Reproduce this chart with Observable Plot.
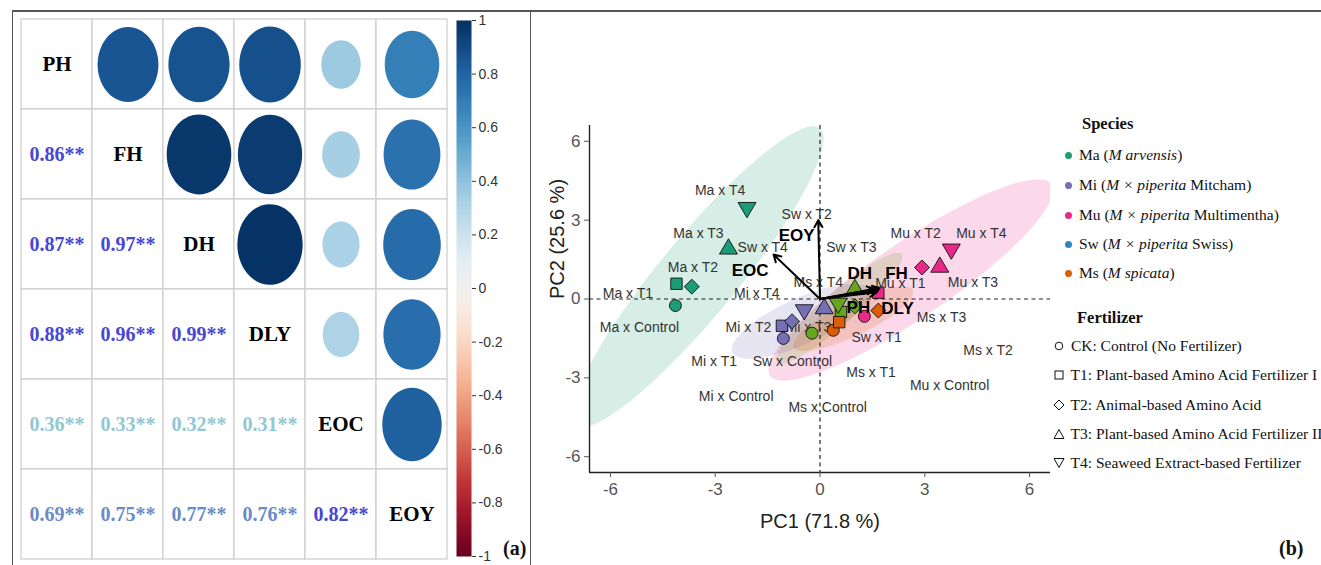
<!DOCTYPE html>
<html><head><meta charset="utf-8">
<script src="https://cdn.jsdelivr.net/npm/d3@7"></script>
<script src="https://cdn.jsdelivr.net/npm/@observablehq/plot@0.6"></script>
<style>
html,body{margin:0;padding:0;background:#fff;}
#wrap{position:relative;width:1321px;height:565px;overflow:hidden;font-family:"Liberation Serif",serif;background:#fff;}
.abs{position:absolute;}
.leg{position:absolute;font-family:"Liberation Serif",serif;font-size:15.5px;line-height:20px;color:#111;white-space:nowrap;}
.legt{position:absolute;font-family:"Liberation Serif",serif;font-size:16.5px;font-weight:bold;line-height:20px;color:#111;}
</style></head><body><div id="wrap"></div>
<script>
// ---------- Panel (a): correlation matrix ----------
const vars = ["PH","FH","DH","DLY","EOC","EOY"];
const rPH  = [1, 0.86, 0.87, 0.88, 0.36, 0.69];
const rFH  = [0.86, 1, 0.97, 0.96, 0.33, 0.75];
const rDH  = [0.87, 0.97, 1, 0.99, 0.32, 0.77];
const rDLY = [0.88, 0.96, 0.99, 1, 0.31, 0.76];
const rEOC = [0.36, 0.33, 0.32, 0.31, 1, 0.82];
const rEOY = [0.69, 0.75, 0.77, 0.76, 0.82, 1];
const corrRows = [rPH, rFH, rDH, rDLY, rEOC, rEOY];
const barTicks = [1, 0.8, 0.6, 0.4, 0.2, 0, -0.2, -0.4, -0.6, -0.8, -1];

// ---------- Panel (b): PCA biplot ----------
const speciesCodes  = ["Ma","Mi","Mu","Sw","Ms"];
const speciesColors = ["#1B9E77","#7570B3","#E7298A","#66A61E","#D95F02"];
const legendDotColors = ["#1B9E77","#7570B3","#E7298A","#2E86C1","#D95F02"];
const speciesItalic = ["M arvensis","M × piperita","M × piperita","M × piperita","M spicata"];
const speciesSuffix = [""," Mitcham"," Multimentha"," Swiss",""];
const fertCodes  = ["CK","T1","T2","T3","T4"];
const fertLabels = ["CK: Control (No Fertilizer)",
  "T1: Plant-based Amino Acid Fertilizer I",
  "T2: Animal-based Amino Acid",
  "T3: Plant-based Amino Acid Fertilizer II",
  "T4: Seaweed Extract-based Fertilizer"];

const ptSpecies = ["Ma","Ma","Ma","Ma","Ma", "Mi","Mi","Mi","Mi","Mi", "Sw","Sw","Sw","Sw","Sw", "Ms","Ms","Ms", "Mu","Mu","Mu","Mu","Mu"];
const ptFert    = ["CK","T1","T2","T3","T4", "CK","T1","T2","T3","T4", "CK","T1","T2","T3","T4", "CK","T1","T2", "CK","T1","T2","T3","T4"];
const ptX = [-4.14,-4.11,-3.67,-2.62,-2.09, -1.05,-1.09,-0.80,0.12,-0.45, -0.23,0.60,1.00,1.00,0.52, 0.38,0.55,1.67, 1.27,1.67,2.92,3.43,3.76];
const ptY = [-0.25,0.58,0.47,1.96,3.42, -1.50,-1.02,-0.85,-0.31,-0.47, -1.30,-0.50,-0.28,0.42,-0.22, -1.19,-0.88,-0.44, -0.66,0.24,1.20,1.27,1.84];

const labText = ["Ma x T4","Ma x T3","Ma x T2","Ma x T1","Ma x Control",
  "Sw x T2","Sw x T4","Sw x T3","Ms x T4","Mi x T4","Mu x T1","Mi x T2","Mi x T3",
  "Ms x T3","Sw x T1","Ms x T2","Mi x T1","Sw x Control","Ms x T1","Mu x Control",
  "Mi x Control","Ms x Control","Mu x T2","Mu x T4","Mu x T3"];
const labX = [-2.86,-3.48,-3.64,-5.50,-5.17, -0.38,-1.64,0.90,-0.05,-1.81,2.30,-2.05,-0.33,
  3.48,1.62,4.81,-3.03,-0.79,1.46,3.71, -2.40,0.22,2.74,4.62,4.38];
const labY = [4.14,2.49,1.20,0.22,-1.07, 3.23,1.96,1.96,0.64,0.22,0.60,-1.07,-1.07,
  -0.69,-1.45,-1.95,-2.39,-2.39,-2.81,-3.31, -3.72,-4.12,2.49,2.49,0.64];

const varNames = ["EOY","EOC","DH","FH","PH","DLY"];
const varTipX  = [-0.05,-1.33,1.55,1.70,1.62,1.66];
const varTipY  = [3.00,1.69,0.38,0.40,0.26,0.31];
const varLabX  = [-0.67,-2.00,1.14,2.19,1.10,2.22];
const varLabY  = [2.40,1.08,0.95,0.95,-0.31,-0.37];

// confidence ellipses: centre, major and minor semi-axis vectors (data units)
const ellSpecies = ["Ma","Mi","Mu","Sw","Ms"];
const ellCx = [-3.50,-0.55,2.60,0.55,0.95];
const ellCy = [0.85,-0.85,0.72,-0.35,-0.75];
const ellAx = [3.50,1.96,4.03,1.78,1.70];
const ellAy = [5.65,1.18,3.64,2.06,1.10];
const ellBx = [0.86,0.27,0.61,0.30,0.25];
const ellBy = [-0.94,-0.79,-1.19,-0.46,-0.55];

const axisTicks = [-6,-3,0,3,6];
const xDom = [-6.6, 6.6];
const yDom = [-6.6, 6.6];

// ---------- symbols ----------
const K = 0.5523;
const ellipseSym = {draw(ctx, size){ const r=Math.sqrt(size/Math.PI); const rx=r*0.81, ry=r;
  ctx.moveTo(rx,0); ctx.bezierCurveTo(rx,ry*K,rx*K,ry,0,ry); ctx.bezierCurveTo(-rx*K,ry,-rx,ry*K,-rx,0);
  ctx.bezierCurveTo(-rx,-ry*K,-rx*K,-ry,0,-ry); ctx.bezierCurveTo(rx*K,-ry,rx,-ry*K,rx,0); ctx.closePath(); }};
const circleSym = {draw(ctx,size){ const r=Math.sqrt(size/Math.PI); ctx.moveTo(r,0); ctx.arc(0,0,r,0,2*Math.PI); ctx.closePath(); }};
const squareSym = {draw(ctx,size){ const s=Math.sqrt(size/Math.PI)*0.95; ctx.moveTo(-s,-s); ctx.lineTo(s,-s); ctx.lineTo(s,s); ctx.lineTo(-s,s); ctx.closePath(); }};
const diamondSym = {draw(ctx,size){ const s=Math.sqrt(size/Math.PI)*1.25; ctx.moveTo(0,-s); ctx.lineTo(s,0); ctx.lineTo(0,s); ctx.lineTo(-s,0); ctx.closePath(); }};
const triUpSym = {draw(ctx,size){ const r=Math.sqrt(size/Math.PI); ctx.moveTo(0,-1.45*r); ctx.lineTo(1.5*r,1.1*r); ctx.lineTo(-1.5*r,1.1*r); ctx.closePath(); }};
const triDownSym = {draw(ctx,size){ const r=Math.sqrt(size/Math.PI); ctx.moveTo(0,1.45*r); ctx.lineTo(1.5*r,-1.1*r); ctx.lineTo(-1.5*r,-1.1*r); ctx.closePath(); }};
const fertSymbols = [circleSym, squareSym, diamondSym, triUpSym, triDownSym];

const wrap = document.getElementById("wrap");
function place(el, left, top){ el.style.position="absolute"; el.style.left=left+"px"; el.style.top=top+"px"; wrap.appendChild(el); return el; }

// ---------- build matrix plot ----------
const cells = [];
corrRows.forEach((row, i) => row.forEach((v, j) => cells.push({row: vars[i], col: vars[j], v, i, j})));
const lower = cells.filter(d => d.j < d.i);
const fmt = d => d.v.toFixed(2) + "**";
const txtOpts = {x:"col", y:"row", text: fmt, fontSize:20, fontWeight:"bold", fontFamily:"Liberation Serif"};
const left = Plot.plot({
  width: 450, height: 565, marginLeft: 19, marginRight: 1, marginTop: 19, marginBottom: 6,
  x: {type:"band", domain: vars, padding: 0, axis: null},
  y: {type:"band", domain: vars, padding: 0, axis: null},
  color: {type:"linear", domain:[-1,1], scheme:"RdBu"},
  r: {type:"sqrt", domain:[0,1], range:[0,40.5]},
  style: {background:"transparent", overflow:"visible"},
  marks: [
    Plot.cell(cells, {x:"col", y:"row", fill:"white", stroke:"#d0d0d0", strokeWidth:1.3, inset:0}),
    Plot.dot(cells.filter(d => d.j > d.i), {x:"col", y:"row", r: d => Math.abs(d.v), fill:"v", symbol: ellipseSym}),
    Plot.text(cells.filter(d => d.i === d.j), {x:"col", y:"row", text:"row", fontSize:21, fontWeight:"bold", fill:"#000", fontFamily:"Liberation Serif"}),
    Plot.text(lower.filter(d => d.v >= 0.8), {...txtOpts, fill:"#4747D3"}),
    Plot.text(lower.filter(d => d.v >= 0.6 && d.v < 0.8), {...txtOpts, fill:"#6A8BC6"}),
    Plot.text(lower.filter(d => d.v < 0.6), {...txtOpts, fill:"#90C8D3"})
  ]
});
place(left, 0, 0);

// ---------- colour bar ----------
const bar = Plot.plot({
  width: 65, height: 565, marginLeft: 0, marginRight: 50, marginTop: 20, marginBottom: 9,
  x: {domain:[0,1], axis:null},
  y: {domain:[-1,1]},
  color: {type:"linear", domain:[-1,1], scheme:"RdBu"},
  style: {background:"transparent", overflow:"visible", fontFamily:"Liberation Sans"},
  marks: [
    Plot.raster({fill: (x, y) => y, x1:0, x2:1, y1:-1, y2:1, width:2, height:400, imageRendering:"auto"}),
    Plot.axisY({anchor:"right", ticks: barTicks, tickFormat: d => String(d), tickSize:4, tickPadding:3, fontSize:14, label:null, color:"#333"})
  ]
});
place(bar, 456, 0);

// ---------- PCA biplot ----------
const ptData = ptX.map((x, i) => ({x, y: ptY[i], sp: ptSpecies[i], f: ptFert[i]}));
const labData = labText.map((t, i) => ({t, x: labX[i], y: labY[i]}));
const arrowData = varNames.map((n, i) => ({n, x2: varTipX[i], y2: varTipY[i]}));
const varLabData = varNames.map((n, i) => ({n, x: varLabX[i], y: varLabY[i]}));
const ellData = [];
ellSpecies.forEach((sp, i) => {
  for (let k = 0; k <= 90; k++) {
    const t = 2 * Math.PI * k / 90;
    ellData.push({sp, x: ellCx[i] + Math.cos(t) * ellAx[i] + Math.sin(t) * ellBx[i],
                      y: ellCy[i] + Math.cos(t) * ellAy[i] + Math.sin(t) * ellBy[i]});
  }
});
const right = Plot.plot({
  width: 525, height: 447, marginLeft: 59, marginRight: 5, marginTop: 25, marginBottom: 75,
  x: {domain: xDom}, y: {domain: yDom},
  color: {domain: speciesCodes, range: speciesColors},
  symbol: {domain: fertCodes, range: fertSymbols},
  style: {background:"transparent", overflow:"visible", fontFamily:"Liberation Sans"},
  marks: [
    Plot.line(ellData, {x:"x", y:"y", z:"sp", fill:"sp", fillOpacity:0.18, stroke:"none", curve:"linear-closed", clip:true}),
    Plot.ruleX([0], {stroke:"#222", strokeDasharray:"4,3.5", strokeWidth:1.2}),
    Plot.ruleY([0], {stroke:"#222", strokeDasharray:"4,3.5", strokeWidth:1.2}),
    Plot.text(labData, {x:"x", y:"y", text:"t", fontSize:14, fill:"#333"}),
    Plot.dot(ptData, {x:"x", y:"y", fill:"sp", symbol:"f", r:6, stroke:"#111", strokeWidth:0.9}),
    Plot.arrow(arrowData, {x1: d => 0, y1: d => 0, x2:"x2", y2:"y2", stroke:"#000", strokeWidth:2, headLength:6}),
    Plot.text(varLabData, {x:"x", y:"y", text:"n", fontSize:17, fontWeight:"bold", fill:"#000"}),
    Plot.ruleX([xDom[0]], {stroke:"#222", strokeWidth:1.4}),
    Plot.ruleY([yDom[0]], {stroke:"#222", strokeWidth:1.4}),
    Plot.axisX({ticks: axisTicks, tickFormat: d => String(d), tickSize:5, tickPadding:5, fontSize:17, label:null, color:"#555"}),
    Plot.axisY({ticks: axisTicks, tickFormat: d => String(d), tickSize:5, tickPadding:4, fontSize:17, label:null, color:"#555"}),
    Plot.text(["PC1 (71.8 %)"], {text: d => d, frameAnchor:"bottom", dy:55, fontSize:20, fill:"#222"}),
    Plot.text(["PC2 (25.6 %)"], {text: d => d, frameAnchor:"left", dx:-32, rotate:-90, fontSize:20, fill:"#222"})
  ]
});
place(right, 530, 100);

// ---------- frames and panel tags ----------
function line(l, t, w, h){ const d=document.createElement("div"); d.style.background="#555"; d.style.width=w+"px"; d.style.height=h+"px"; place(d, l, t); }
line(12, 10, 1309, 1.5);
line(11.5, 10, 1.5, 560);
line(529.5, 10, 1.5, 560);
function tag(txt, l, t){ const d=document.createElement("div"); d.textContent=txt; d.style.font="bold 20px 'Liberation Serif'"; d.style.color="#111"; place(d, l, t); }
tag("(a)", 503, 537);
tag("(b)", 1279, 537);

// ---------- legend ----------
const st = document.createElement("div"); st.className="legt"; st.textContent="Species"; place(st, 1082, 114);
const spTops = [145, 175, 205, 234, 263];
speciesCodes.forEach((c, i) => {
  const d = document.createElement("div"); d.className = "leg";
  d.innerHTML = `<span style="display:inline-block;width:7px;height:7px;border-radius:50%;background:${legendDotColors[i]};margin-right:7px;vertical-align:1px"></span>${c} (<i>${speciesItalic[i]}</i>${speciesSuffix[i]})`;
  place(d, 1065, spTops[i]);
});
const ft = document.createElement("div"); ft.className="legt"; ft.textContent="Fertilizer"; place(ft, 1077, 308);
const fTops = [336, 365, 395, 424, 453];
const legSymPaths = [
  '<circle cx="6" cy="6" r="3.8" fill="none" stroke="#111" stroke-width="1"/>',
  '<rect x="2" y="2" width="8" height="8" fill="none" stroke="#111" stroke-width="1"/>',
  '<path d="M6,1L11,6L6,11L1,6Z" fill="none" stroke="#111" stroke-width="1"/>',
  '<path d="M6,1.5L11,10.5L1,10.5Z" fill="none" stroke="#111" stroke-width="1"/>',
  '<path d="M6,10.5L11,1.5L1,1.5Z" fill="none" stroke="#111" stroke-width="1"/>'
];
fertLabels.forEach((t, i) => {
  const d = document.createElement("div"); d.className = "leg";
  d.innerHTML = `<svg width="12" height="12" style="vertical-align:-1px;margin-right:2px">${legSymPaths[i]}</svg> ${t}`;
  place(d, 1053, fTops[i]);
});
</script></body></html>
